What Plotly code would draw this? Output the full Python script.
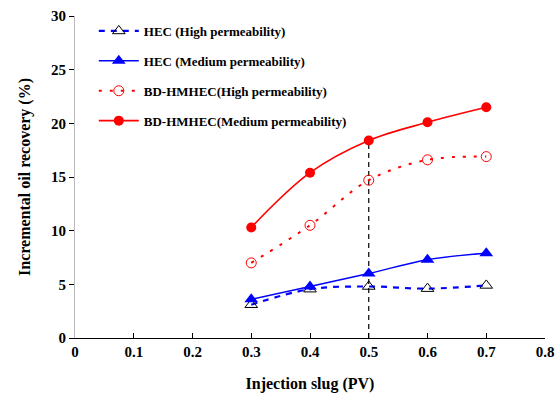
import plotly.graph_objects as go

x = [0.3, 0.4, 0.5, 0.6, 0.7]
hec_high = [3.1, 4.55, 4.8, 4.6, 4.9]
hec_med = [3.6, 4.8, 6.0, 7.3, 7.9]
bd_high = [7.0, 10.5, 14.7, 16.6, 16.9]
bd_med = [10.3, 15.4, 18.4, 20.1, 21.5]
names = ["HEC (High permeability)", "HEC (Medium permeability)",
         "BD-HMHEC(High permeability)", "BD-HMHEC(Medium permeability)"]
xticks = [0, 0.1, 0.2, 0.3, 0.4, 0.5, 0.6, 0.7, 0.8]
yticks = [0, 5, 10, 15, 20, 25, 30]

font = "Liberation Serif"
fig = go.Figure()
fig.add_trace(go.Scatter(x=[0.5, 0.5], y=[0, bd_med[2]], mode="lines",
                         line=dict(color="black", width=1.2, dash="5px,4px"), showlegend=False))
fig.add_trace(go.Scatter(x=x, y=hec_high, name=names[0], mode="lines+markers", legendgroup="a",
                         line=dict(color="#0000FF", width=2.2, dash="6px,6px", shape="spline"),
                         marker=dict(symbol="triangle-up-open", size=11, color="black", line=dict(width=1))))
fig.add_trace(go.Scatter(x=x, y=hec_med, name=names[1], mode="lines+markers", legendgroup="b",
                         line=dict(color="#0000FF", width=1.5, shape="spline"),
                         marker=dict(symbol="triangle-up", size=12, color="#0000FF")))
fig.add_trace(go.Scatter(x=x, y=bd_high, name=names[2], mode="lines+markers", legendgroup="c",
                         line=dict(color="#FF0000", width=2, dash="3px,8px", shape="spline"),
                         marker=dict(symbol="circle-open", size=10, color="#FF0000", line=dict(width=1))))
fig.add_trace(go.Scatter(x=x, y=bd_med, name=names[3], mode="lines+markers", legendgroup="d",
                         line=dict(color="#FF0000", width=1.6, shape="spline"),
                         marker=dict(symbol="circle", size=10, color="#FF0000")))

fig.update_layout(
    width=556, height=397,
    margin=dict(l=75, r=11, t=16, b=59, autoexpand=False),
    paper_bgcolor="white", plot_bgcolor="white",
    font=dict(family=font, size=12, color="black"),
    legend=dict(x=0.04, y=1.0, xanchor="left", yanchor="top", bgcolor="rgba(0,0,0,0)",
                font=dict(family=font, size=13, weight="bold"), tracegroupgap=10, itemwidth=40),
    xaxis=dict(range=[0, 0.8], tickvals=xticks, ticktext=[f"{v:g}" for v in xticks],
               showgrid=False, zeroline=False, showline=True, linecolor="black", linewidth=1,
               ticks="inside", ticklen=5, tickcolor="black", automargin=False,
               tickfont=dict(family=font, size=15, weight="bold"),
               title=dict(text="Injection slug (PV)", font=dict(family=font, size=16, weight="bold"), standoff=18)),
    yaxis=dict(range=[0, 30], tickvals=yticks, showgrid=False, zeroline=False,
               showline=True, linecolor="#BBBBBB", linewidth=1,
               ticks="outside", ticklen=5, tickcolor="black", automargin=False,
               tickfont=dict(family=font, size=15, weight="bold"),
               title=dict(text="Incremental oil recovery (%)", font=dict(family=font, size=16, weight="bold"), standoff=16)),
)
fig.write_html("out.html")
